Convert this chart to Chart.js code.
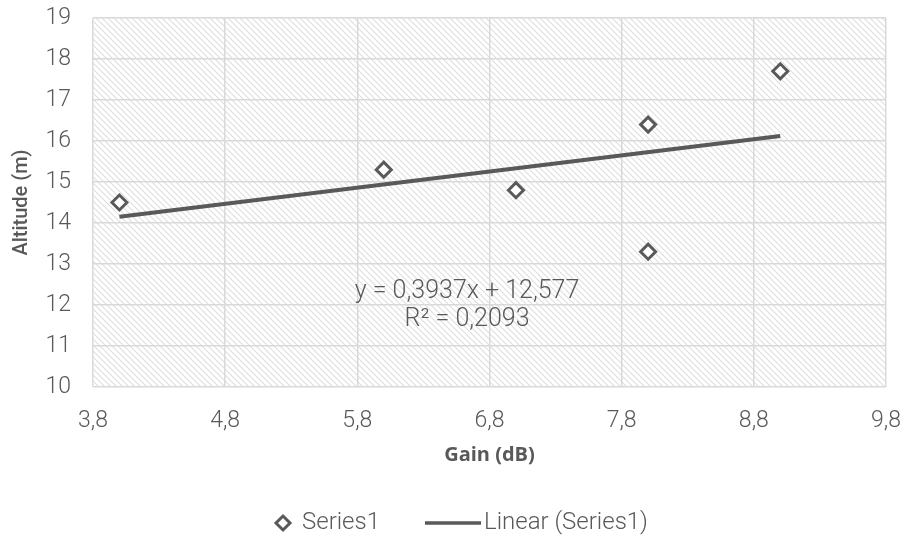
<!DOCTYPE html>
<html>
<head>
<meta charset="utf-8">
<script src="https://cdn.jsdelivr.net/npm/chart.js@4/dist/chart.umd.min.js"></script>
<style>
html,body{margin:0;padding:0;background:#fff;}
#wrap{width:904px;height:538px;position:relative;}
</style>
</head>
<body>
<div id="wrap"><canvas id="c" width="904" height="538"></canvas></div>
<script>
const gainX = [4.0, 6.0, 7.0, 8.0, 8.0, 9.0];
const altitudeY = [14.5, 15.3, 14.8, 16.4, 13.3, 17.7];
const trendX = [4.0, 9.0];
const trendY = [14.152, 16.12];
const xTicks = [3.8, 4.8, 5.8, 6.8, 7.8, 8.8, 9.8];
const yTicks = [10, 11, 12, 13, 14, 15, 16, 17, 18, 19];
const equationLines = ['y = 0,3937x + 12,577', 'R² = 0,2093'];
const legendLabels = ['Series1', 'Linear (Series1)'];

const FONT = 'Roboto, "Open Sans", sans-serif';
const GREY = '#595959';

function makeHatch(){
  const s = 6;
  const p = document.createElement('canvas');
  p.width = s; p.height = s;
  const g = p.getContext('2d');
  g.fillStyle = '#ffffff';
  g.fillRect(0,0,s,s);
  g.strokeStyle = '#dedede';
  g.lineWidth = 1.1;
  g.beginPath();
  g.moveTo(-1,-1); g.lineTo(s+1,s+1);
  g.moveTo(-1,s-1); g.lineTo(1,s+1);
  g.moveTo(s-1,-1); g.lineTo(s+1,1);
  g.stroke();
  return p;
}

const hatchPlugin = {
  id:'hatch',
  beforeDraw(chart){
    const {ctx, chartArea:a} = chart;
    ctx.save();
    ctx.fillStyle = ctx.createPattern(makeHatch(),'repeat');
    ctx.fillRect(a.left, a.top, a.right-a.left, a.bottom-a.top);
    ctx.restore();
  }
};

const eqPlugin = {
  id:'eq',
  afterDatasetsDraw(chart){
    const {ctx, scales} = chart;
    const cx = scales.x.getPixelForValue(6.63);
    const y0 = scales.y.getPixelForValue(12.32);
    ctx.save();
    ctx.font = '300 25px ' + FONT;
    ctx.fillStyle = GREY;
    ctx.textAlign = 'center';
    ctx.textBaseline = 'middle';
    ctx.fillText(equationLines[0], cx, y0);
    ctx.fillText(equationLines[1], cx, y0 + 28);
    ctx.restore();
  }
};

const legendPlugin = {
  id:'customLegend',
  afterDraw(chart){
    const {ctx} = chart;
    const cy = chart.height - 15;
    ctx.save();
    ctx.strokeStyle = GREY; ctx.fillStyle = '#fff'; ctx.lineWidth = 3;
    const dx = 283, r = 7;
    ctx.beginPath();
    ctx.moveTo(dx, cy - r); ctx.lineTo(dx + r, cy); ctx.lineTo(dx, cy + r); ctx.lineTo(dx - r, cy); ctx.closePath();
    ctx.fill(); ctx.stroke();
    ctx.font = '300 24px ' + FONT;
    ctx.fillStyle = GREY;
    ctx.textAlign = 'left';
    ctx.textBaseline = 'middle';
    ctx.fillText(legendLabels[0], 302, cy);
    ctx.lineWidth = 3.5;
    ctx.beginPath(); ctx.moveTo(425, cy); ctx.lineTo(481, cy); ctx.stroke();
    ctx.fillText(legendLabels[1], 484, cy);
    ctx.restore();
  }
};

new Chart(document.getElementById('c'), {
  type:'scatter',
  data:{
    datasets:[
      {
        label:legendLabels[0],
        data: gainX.map((x,i)=>({x:x, y:altitudeY[i]})),
        pointStyle:'rectRot',
        pointRadius:7.5,
        pointHoverRadius:7.5,
        pointBackgroundColor:'#ffffff',
        pointBorderColor:GREY,
        pointBorderWidth:3,
        backgroundColor:'#ffffff',
        borderColor:GREY,
        borderWidth:3,
        showLine:false
      },
      {
        label:legendLabels[1],
        type:'line',
        data: trendX.map((x,i)=>({x:x, y:trendY[i]})),
        borderColor:GREY,
        backgroundColor:GREY,
        borderWidth:4,
        pointRadius:0,
        fill:false
      }
    ]
  },
  options:{
    responsive:false,
    animation:false,
    events:[],
    layout:{autoPadding:false, padding:{left:0, right:18, top:18, bottom:30}},
    scales:{
      x:{
        type:'linear',
        min:3.8, max:9.8,
        afterBuildTicks(s){ s.ticks = xTicks.map(v=>({value:v})); },
        afterFit(s){ s.height = 121; s.paddingLeft = 0; s.paddingRight = 0; },
        grid:{color:'#d9d9d9', lineWidth:1.5, drawTicks:false},
        border:{display:false},
        ticks:{
          color:GREY, padding:20, maxRotation:0,
          font:{family:FONT, size:23, weight:'300'},
          callback:v=>v.toFixed(1).replace('.',',')
        },
        title:{display:true, text:'Gain (dB)', color:GREY, padding:{top:8.5,bottom:41},
          font:{family:'"Open Sans", sans-serif', size:20, weight:'bold'}}
      },
      y:{
        type:'linear',
        min:10, max:19,
        afterBuildTicks(s){ s.ticks = yTicks.map(v=>({value:v})); },
        afterFit(s){ s.width = 93; s.paddingTop = 0; s.paddingBottom = 0; },
        grid:{color:'#d9d9d9', lineWidth:1.5, drawTicks:false},
        border:{display:false},
        ticks:{color:GREY, padding:22, font:{family:FONT, size:23, weight:'300'}},
        title:{display:true, text:'Altitude (m)', color:GREY, padding:{top:10,bottom:11},
          font:{family:FONT, size:20, weight:'500'}}
      }
    },
    plugins:{
      legend:{display:false},
      tooltip:{enabled:false}
    }
  },
  plugins:[hatchPlugin, eqPlugin, legendPlugin]
});
</script>
</body>
</html>
